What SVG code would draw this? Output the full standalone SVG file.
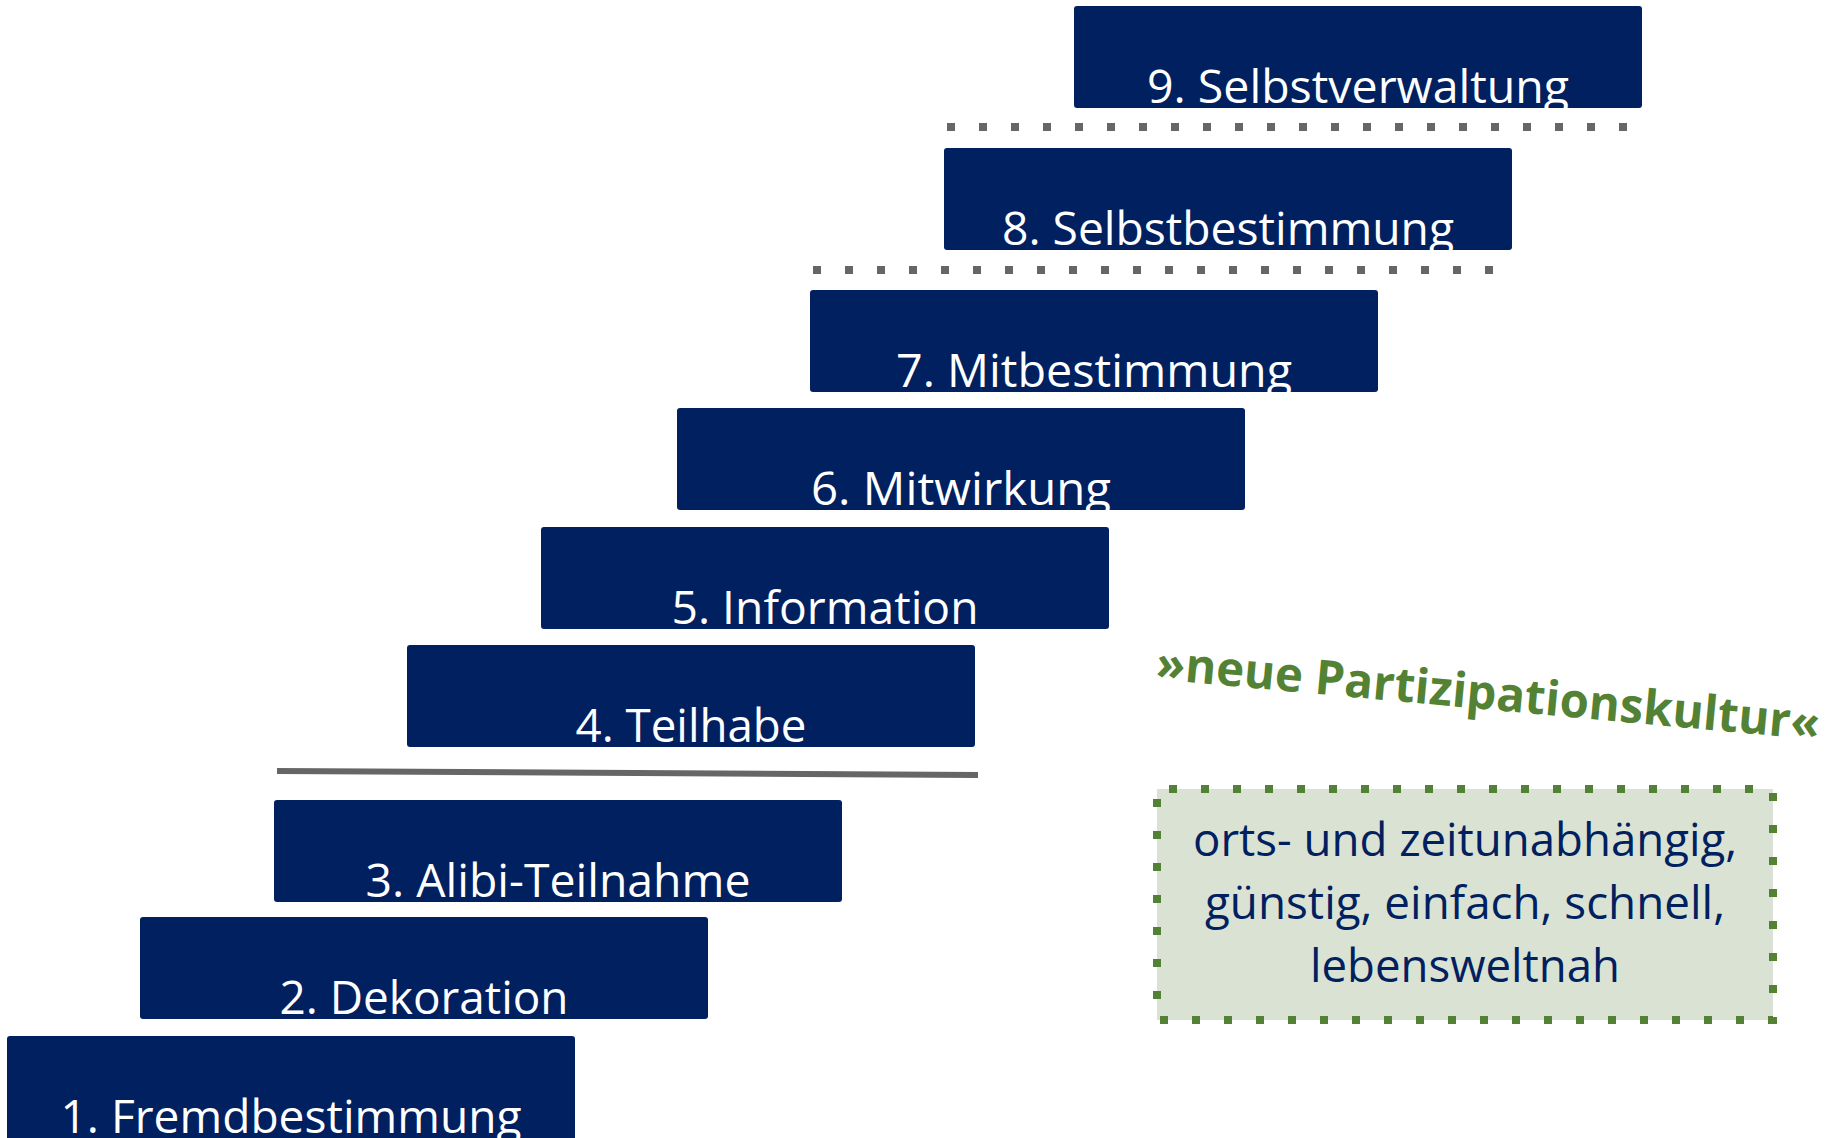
<svg xmlns="http://www.w3.org/2000/svg" width="1839" height="1138" viewBox="0 0 1839 1138">
<style>
.step{fill:#002060;}
.lbl{fill:#ffffff;font-family:"Open Sans","Noto Sans",sans-serif;font-size:46px;text-anchor:middle;}
.sep{stroke:#666666;stroke-width:6;fill:none;}
.dot{stroke-width:8;stroke-dasharray:8 24;}
.note{fill:#dae3d3;stroke:#548235;stroke-width:8;stroke-dasharray:8 24;stroke-dashoffset:-12;}
.ntxt{fill:#002060;font-family:"Open Sans","Noto Sans",sans-serif;font-size:46px;text-anchor:middle;}
.slogan{fill:#548235;font-family:"Open Sans","Noto Sans",sans-serif;font-size:48px;font-weight:bold;}
</style>
<rect width="1839" height="1138" fill="#ffffff"/>
<g id="connectors">
<line class="sep dot" x1="947" y1="127" x2="1632" y2="127"/>
<line class="sep dot" x1="813" y1="270" x2="1498" y2="270"/>
<line class="sep" x1="277" y1="771" x2="978" y2="775"/>
</g>
<g id="step1"><rect class="step" x="7" y="1036" width="568" height="110" rx="3"/><text class="lbl" x="291" y="1133" textLength="461" lengthAdjust="spacingAndGlyphs">1. Fremdbestimmung</text></g>
<g id="step2"><rect class="step" x="140" y="917" width="568" height="102" rx="3"/><text class="lbl" x="424" y="1014" textLength="289" lengthAdjust="spacingAndGlyphs">2. Dekoration</text></g>
<g id="step3"><rect class="step" x="274" y="800" width="568" height="102" rx="3"/><text class="lbl" x="558" y="897" textLength="385" lengthAdjust="spacingAndGlyphs">3. Alibi-Teilnahme</text></g>
<g id="step4"><rect class="step" x="407" y="645" width="568" height="102" rx="3"/><text class="lbl" x="691" y="742" textLength="231" lengthAdjust="spacingAndGlyphs">4. Teilhabe</text></g>
<g id="step5"><rect class="step" x="541" y="527" width="568" height="102" rx="3"/><text class="lbl" x="825" y="624" textLength="307" lengthAdjust="spacingAndGlyphs">5. Information</text></g>
<g id="step6"><rect class="step" x="677" y="408" width="568" height="102" rx="3"/><text class="lbl" x="961" y="505" textLength="300" lengthAdjust="spacingAndGlyphs">6. Mitwirkung</text></g>
<g id="step7"><rect class="step" x="810" y="290" width="568" height="102" rx="3"/><text class="lbl" x="1094" y="387" textLength="396" lengthAdjust="spacingAndGlyphs">7. Mitbestimmung</text></g>
<g id="step8"><rect class="step" x="944" y="148" width="568" height="102" rx="3"/><text class="lbl" x="1228" y="245" textLength="452" lengthAdjust="spacingAndGlyphs">8. Selbstbestimmung</text></g>
<g id="step9"><rect class="step" x="1074" y="6" width="568" height="102" rx="3"/><text class="lbl" x="1358" y="103" textLength="422" lengthAdjust="spacingAndGlyphs">9. Selbstverwaltung</text></g>
<g id="slogan"><text class="slogan" transform="translate(1155 679) rotate(5.24)" x="0" y="0" textLength="666" lengthAdjust="spacingAndGlyphs">»neue Partizipationskultur«</text></g>
<g id="note">
<rect class="note" x="1157" y="789" width="616" height="231"/>
<text class="ntxt" x="1465" y="856" textLength="544" lengthAdjust="spacingAndGlyphs">orts- und zeitunabhängig,</text>
<text class="ntxt" x="1465" y="919" textLength="520" lengthAdjust="spacingAndGlyphs">günstig, einfach, schnell,</text>
<text class="ntxt" x="1465" y="982" textLength="310" lengthAdjust="spacingAndGlyphs">lebensweltnah</text>
</g>
</svg>
